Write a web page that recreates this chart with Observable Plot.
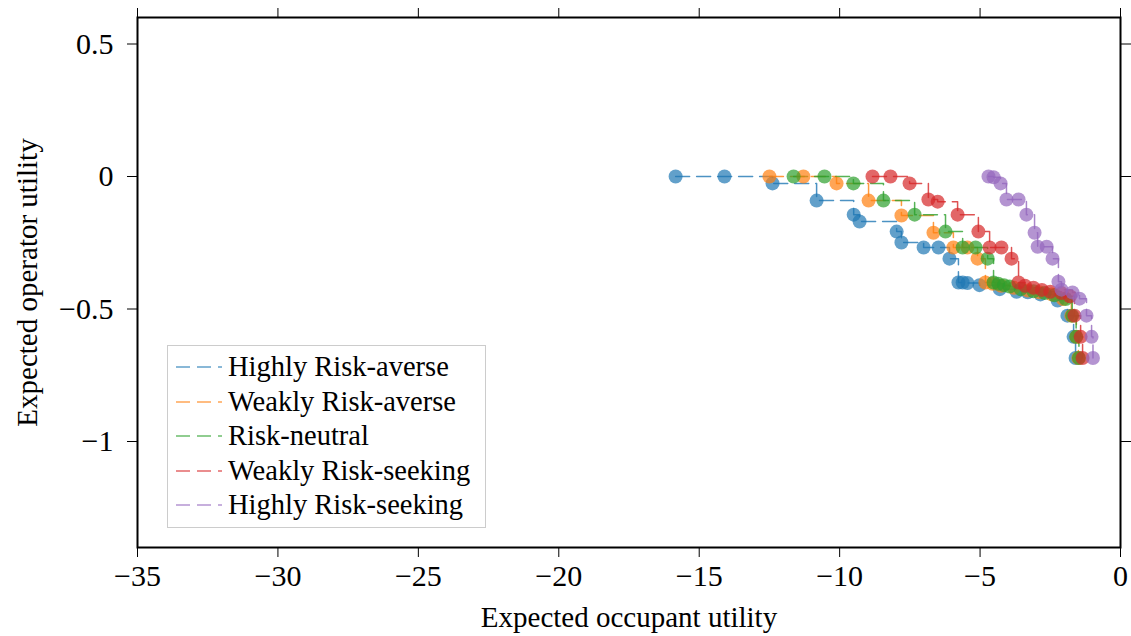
<!DOCTYPE html>
<html>
<head>
<meta charset="utf-8">
<script src="https://cdn.jsdelivr.net/npm/d3@7"></script>
<script src="https://cdn.jsdelivr.net/npm/@observablehq/plot@0.6"></script>
<style>
  html, body { margin: 0; padding: 0; background: #fff; }
  #wrap { position: relative; width: 1131px; height: 636px; font-family: "Liberation Serif", "Times New Roman", serif; }
  #legend { position: absolute; left: 167px; top: 345px; width: 319px; height: 183px; box-sizing: border-box;
            border: 1.5px solid #cccccc; background: #fff; }
  .row { position: absolute; left: 8px; height: 34px; display: flex; align-items: center; }
  .row span { font-size: 28.5px; color: #000; margin-left: 6px; white-space: nowrap; }
</style>
</head>
<body>
<div id="wrap"><div id="legend"></div></div>
<script>
// Series names and colours
const seriesNames = ["Highly Risk-averse", "Weakly Risk-averse", "Risk-neutral", "Weakly Risk-seeking", "Highly Risk-seeking"];
const seriesColors = ["#1f77b4", "#ff7f0e", "#2ca02c", "#d62728", "#9467bd"];

// Expected occupant utility (x) and expected operator utility (y) per attitude
const hraX = [-15.84, -14.10, -12.39, -10.82, -9.50, -9.29, -7.97, -7.80, -7.01, -6.48, -6.09, -5.77, -5.62, -5.45, -5.02, -4.30, -3.70, -3.30, -2.85, -2.24, -1.89, -1.67, -1.60];
const hraY = [0, 0, -0.026, -0.091, -0.144, -0.170, -0.208, -0.249, -0.268, -0.268, -0.310, -0.400, -0.400, -0.402, -0.410, -0.425, -0.435, -0.437, -0.445, -0.468, -0.525, -0.605, -0.685];

const wraX = [-12.50, -11.29, -10.11, -8.97, -7.80, -6.66, -5.95, -5.45, -5.09, -4.81, -4.55, -4.25, -3.80, -3.30, -2.90, -2.45, -2.05, -1.75, -1.57, -1.50];
const wraY = [0, 0, -0.026, -0.091, -0.147, -0.212, -0.268, -0.268, -0.310, -0.400, -0.405, -0.412, -0.420, -0.430, -0.437, -0.445, -0.462, -0.525, -0.605, -0.685];

const rnX = [-11.64, -10.54, -9.51, -8.44, -7.33, -6.23, -5.62, -5.16, -4.73, -4.52, -4.35, -4.15, -3.95, -3.55, -3.10, -2.70, -2.35, -1.95, -1.72, -1.58, -1.48];
const rnY = [0, 0, -0.026, -0.091, -0.144, -0.208, -0.268, -0.268, -0.310, -0.400, -0.405, -0.410, -0.415, -0.425, -0.433, -0.440, -0.448, -0.462, -0.525, -0.605, -0.685];

const wrsX = [-8.83, -8.19, -7.51, -6.84, -6.51, -5.80, -5.06, -4.66, -4.24, -3.88, -3.63, -3.40, -3.10, -2.80, -2.50, -2.10, -1.80, -1.64, -1.42, -1.35];
const wrsY = [0, 0, -0.026, -0.087, -0.095, -0.144, -0.208, -0.268, -0.268, -0.310, -0.400, -0.412, -0.420, -0.428, -0.435, -0.440, -0.452, -0.525, -0.605, -0.685];

const hrsX = [-4.70, -4.52, -4.27, -4.06, -3.63, -3.35, -3.06, -2.95, -2.63, -2.42, -2.21, -2.10, -1.71, -1.46, -1.21, -1.03, -0.98];
const hrsY = [0, -0.003, -0.026, -0.087, -0.087, -0.144, -0.212, -0.265, -0.265, -0.310, -0.397, -0.427, -0.438, -0.461, -0.525, -0.605, -0.685];

const xTicks = [-35, -30, -25, -20, -15, -10, -5, 0];
const yTicks = [0.5, 0, -0.5, -1];

const seriesX = [hraX, wraX, rnX, wrsX, hrsX];
const seriesY = [hraY, wraY, rnY, wrsY, hrsY];
const rows = seriesNames.flatMap((name, i) =>
  seriesX[i].map((x, j) => ({series: name, x, y: seriesY[i][j]})));

const fmt = d => d3.format("")(d).replace("-", "\u2212");

const chart = Plot.plot({
  width: 1131,
  height: 636,
  marginLeft: 137,
  marginRight: 11,
  marginTop: 17,
  marginBottom: 89,
  x: {domain: [-35, 0]},
  y: {domain: [-1.4, 0.6]},
  color: {domain: seriesNames, range: seriesColors},
  style: {fontFamily: "'Liberation Serif', 'Times New Roman', serif", color: "#000", background: "#fff"},
  marks: [
    Plot.axisX({ticks: xTicks, anchor: "bottom", tickSize: 10, tickPadding: 7, fontSize: 30, tickFormat: fmt, label: null, strokeWidth: 1}),
    Plot.axisX({ticks: xTicks, anchor: "top", tickSize: 10, tickFormat: () => "", label: null, strokeWidth: 1}),
    Plot.axisY({ticks: yTicks, anchor: "left", tickSize: 10, tickPadding: 14, fontSize: 30, tickFormat: fmt, label: null, strokeWidth: 1}),
    Plot.axisY({ticks: yTicks, anchor: "right", tickSize: 10, tickFormat: () => "", label: null, strokeWidth: 1}),
    Plot.line(rows, {x: "x", y: "y", z: "series", stroke: "series", curve: "step-after",
      strokeDasharray: "14,7", strokeWidth: 1.5, strokeOpacity: 0.8}),
    Plot.dot(rows, {x: "x", y: "y", fill: "series", r: 7, fillOpacity: 0.7, stroke: "none"}),
    Plot.frame({stroke: "#000", strokeWidth: 2}),
    Plot.text(["Expected occupant utility"], {frameAnchor: "bottom", dy: 79, fontSize: 29, fill: "#000"}),
    Plot.text(["Expected operator utility"], {frameAnchor: "left", textAnchor: "middle", dx: -110, rotate: -90, fontSize: 29, fill: "#000"})
  ]
});
document.getElementById("wrap").prepend(chart);

// Legend entries: dashed line sample followed by the series name
const legend = d3.select("#legend");
seriesNames.forEach((name, i) => {
  const row = legend.append("div").attr("class", "row").style("top", `${4 + i * 34.5}px`);
  const svg = row.append("svg").attr("width", 46).attr("height", 10);
  svg.append("line").attr("x1", 0).attr("x2", 46).attr("y1", 5).attr("y2", 5)
    .attr("stroke", seriesColors[i]).attr("stroke-opacity", 0.7).attr("stroke-width", 1.5)
    .attr("stroke-dasharray", "14,7");
  row.append("span").text(name);
});
</script>
</body>
</html>
